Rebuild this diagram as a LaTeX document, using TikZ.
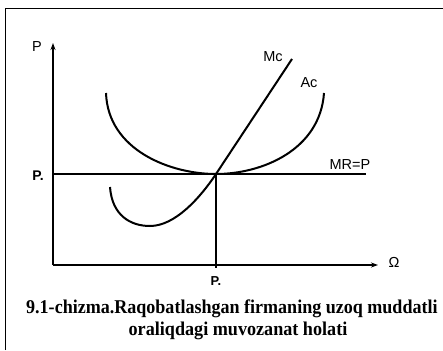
\documentclass[tikz,border=0pt]{standalone}
\usepackage{fontspec}
\setmainfont{Liberation Serif}
\newfontfamily\lblfont{Liberation Sans}
\usetikzlibrary{arrows.meta}
\newcommand\captxt[2]{\scalebox{#1}[1]{#2}}
\begin{document}
\begin{tikzpicture}[x=1pt,y=-1pt,
  axis/.style={line width=1.2pt,-{Stealth[length=7pt,width=5pt]}},
  curve/.style={line width=2pt},
  lbl/.style={font=\lblfont\fontsize{14.5}{16}\selectfont,inner sep=0pt},
  blbl/.style={font=\lblfont\bfseries\fontsize{14}{16}\selectfont,inner sep=0pt},
  captext/.style={font=\bfseries\fontsize{19.5}{21}\selectfont,inner sep=0pt,anchor=base}]
\useasboundingbox (0,0) rectangle (443,350);
\fill[white] (0,0) rectangle (443,350);
% frame
\draw[line width=1pt] (5,350) -- (5,9) -- (443,9);
% axes
\coordinate (O) at (53,265);
\coordinate (Ytop) at (53,43);
\coordinate (Xend) at (378,265);
\draw[axis] (O) -- (Ytop);
\draw[axis] (O) -- (Xend);
% equilibrium
\coordinate (E) at (216,174);
\coordinate (Pl) at (53,174);
\coordinate (Pr) at (366,174);
\coordinate (Eb) at (216,268);
\draw[line width=1.6pt] (Pl) -- (Pr);
\draw[line width=1.2pt] (E) -- (Eb);
% Ac
\coordinate (Aca) at (106,93);
\coordinate (Acb) at (324,93);
\draw[curve] (Aca) .. controls (108,150) and (170,174) .. (E) .. controls (262,174) and (320,150) .. (Acb);
% Mc
\coordinate (Mca) at (110,187);
\coordinate (Mcm) at (150,226);
\coordinate (Mcb) at (292,59);
\draw[curve] (Mca) .. controls (112,215) and (130,226) .. (Mcm) .. controls (175,226) and (200,198) .. (E) -- (Mcb);
% labels
\node[lbl] (lP) at (37,47) {P};
\node[blbl] (lP0) at (38,176) {P.};
\node[blbl,font=\lblfont\bfseries\fontsize{13}{15}\selectfont] (lQ0) at (216,281) {P.};
\node[lbl] (lQ) at (394,262) {Ω};
\node[lbl] (lMR) at (350,165) {MR=P};
\node[lbl] (lMc) at (273,57) {Mc};
\node[lbl] (lAc) at (309,83) {Ac};
% caption
\node[captext,anchor=base west] (c1) at (26,313) {\captxt{0.925}{9.1-chizma.Raqobatlashgan firmaning uzoq muddatli}};
\node[captext] (c2) at (238,335) {\captxt{0.93}{oraliqdagi muvozanat holati}};
\end{tikzpicture}
\end{document}
